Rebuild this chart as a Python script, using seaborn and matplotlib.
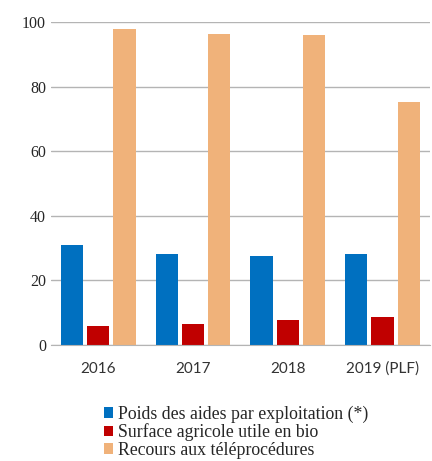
import pandas as pd
import matplotlib.pyplot as plt
import seaborn as sns

years = ["2016", "2017", "2018", "2019 (PLF)"]
series = ["Poids des aides par exploitation (*)",
          "Surface agricole utile en bio",
          "Recours aux téléprocédures"]
poids_aides = [30.9, 28.3, 27.6, 28.1]
surface_bio = [5.8, 6.4, 7.6, 8.6]
teleprocedures = [98.0, 96.4, 96.1, 75.2]
colors = ["#0070C0", "#C00000", "#F0B27A"]

df = pd.DataFrame({
    "year": years * 3,
    "serie": [s for s in series for _ in years],
    "value": poids_aides + surface_bio + teleprocedures,
})

sns.set_style("white")
fig = plt.figure(figsize=(4.32, 4.61), dpi=100)
ax = fig.add_axes([0.118, 0.2516, 0.877, 0.7004])

sns.barplot(data=df, x="year", y="value", hue="serie", hue_order=series,
            palette=colors, width=0.83, gap=0.15, saturation=1,
            edgecolor="none", ax=ax)

ax.set_ylim(0, 100)
ax.set_xlim(-0.5, 3.5)
ax.set_yticks([0, 20, 40, 60, 80, 100])
ax.yaxis.grid(True, color="#B4B4B4", linewidth=1)
ax.set_axisbelow(True)
for s in ["top", "right", "left"]:
    ax.spines[s].set_visible(False)
ax.spines["bottom"].set_color("#B4B4B4")
ax.set_xlabel("")
ax.set_ylabel("")
ax.tick_params(axis="both", length=0)
ax.tick_params(axis="x", pad=12)
for lab in ax.get_yticklabels():
    lab.set_family("Liberation Serif")
    lab.set_fontsize(11.5)
    lab.set_color("#262626")
for lab in ax.get_xticklabels():
    lab.set_family("Lato")
    lab.set_fontsize(11)
    lab.set_color("#333333")

ax.legend_.remove()
handles, labels = ax.get_legend_handles_labels()
fig.legend(handles, labels, loc="upper left", bbox_to_anchor=(0.24, 0.12),
           frameon=False, prop={"family": "Liberation Serif", "size": 12.8},
           handlelength=0.55, handleheight=0.55, handletextpad=0.25,
           labelspacing=0.02, borderaxespad=0, borderpad=0)

fig.savefig("out.png", dpi=100)
